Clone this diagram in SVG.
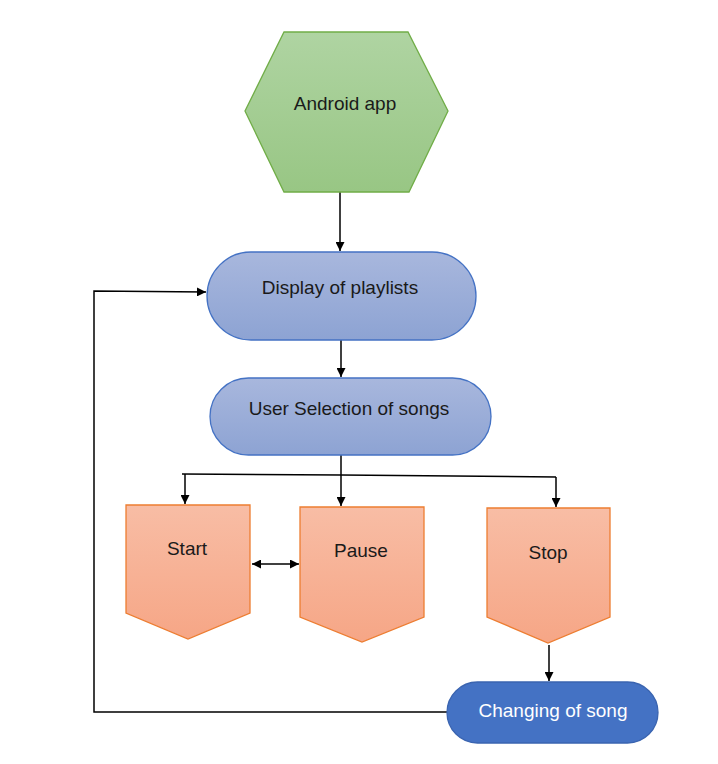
<svg xmlns="http://www.w3.org/2000/svg" width="718" height="764" viewBox="0 0 718 764">
<defs>
<linearGradient id="gGreen" x1="0" y1="0" x2="0" y2="1"><stop offset="0" stop-color="#afd4a2"/><stop offset="1" stop-color="#98c684"/></linearGradient>
<linearGradient id="gBlue" x1="0" y1="0" x2="0" y2="1"><stop offset="0" stop-color="#a8b7dd"/><stop offset="1" stop-color="#8da3d3"/></linearGradient>
<linearGradient id="gOrange" x1="0" y1="0" x2="0" y2="1"><stop offset="0" stop-color="#f8bda5"/><stop offset="1" stop-color="#f6a686"/></linearGradient>
<marker id="ah" viewBox="0 0 10 10" refX="10" refY="5" markerWidth="9" markerHeight="9" markerUnits="userSpaceOnUse" orient="auto-start-reverse"><path d="M0,0 L10,5 L0,10 z" fill="#000"/></marker>
<style>
text{font-family:"Liberation Sans",Arial,sans-serif;font-size:19px;text-anchor:middle;fill:#1a1a1a}
.c{fill:none;stroke:#000;stroke-width:1.5}
.pill{fill:url(#gBlue);stroke:#4472c4;stroke-width:1.3}
.pent{fill:url(#gOrange);stroke:#ed7d31;stroke-width:1.3}
</style>
</defs>
<rect width="718" height="764" fill="#fff"/>
<g id="connectors">
<line class="c" x1="340" y1="192" x2="340" y2="251" marker-end="url(#ah)"/>
<line class="c" x1="341" y1="340" x2="341" y2="377" marker-end="url(#ah)"/>
<line class="c" x1="341" y1="455" x2="341" y2="475"/>
<polyline class="c" points="182,474 341,475 556,477"/>
<line class="c" x1="185" y1="474" x2="185" y2="504" marker-end="url(#ah)"/>
<line class="c" x1="341" y1="475" x2="341" y2="506" marker-end="url(#ah)"/>
<line class="c" x1="556" y1="477" x2="556" y2="507" marker-end="url(#ah)"/>
<line class="c" x1="252" y1="564" x2="299" y2="564" marker-start="url(#ah)" marker-end="url(#ah)"/>
<line class="c" x1="549" y1="645" x2="549" y2="681" marker-end="url(#ah)"/>
<polyline class="c" points="447,712 94,712 94,291 206,292" marker-end="url(#ah)"/>
</g>
<g id="android">
<polygon points="284,32 408,32 448,111 409,192 284,192 245,111" fill="url(#gGreen)" stroke="#70ad47" stroke-width="1.3"/>
<text x="345" y="110">Android app</text>
</g>
<g id="display">
<rect class="pill" x="207" y="252" width="269" height="88" rx="44"/>
<text x="340" y="294">Display of playlists</text>
</g>
<g id="selection">
<rect class="pill" x="210" y="378" width="281" height="77" rx="38.5"/>
<text x="349" y="415">User Selection of songs</text>
</g>
<g id="start">
<polygon class="pent" points="126,505 250,505 250,613 188,639 126,613"/>
<text x="187" y="555">Start</text>
</g>
<g id="pause">
<polygon class="pent" points="300,507 424,507 424,617 362,642 300,617"/>
<text x="361" y="557">Pause</text>
</g>
<g id="stop">
<polygon class="pent" points="487,508 610,508 610,617 548,643 487,617"/>
<text x="548" y="559">Stop</text>
</g>
<g id="changing">
<rect x="447" y="682" width="211" height="61" rx="30.5" fill="#4472c4" stroke="#3a64b0" stroke-width="1.3"/>
<text x="553" y="717" style="fill:#fff">Changing of song</text>
</g>
</svg>
